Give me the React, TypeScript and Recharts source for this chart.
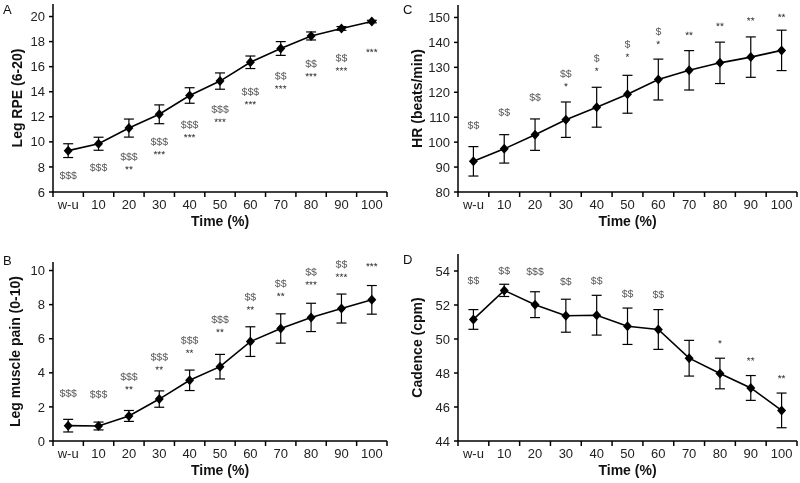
import React from 'react';
import { LineChart, Line, XAxis, YAxis, ErrorBar } from 'recharts';

const timeLabels = ['w-u', '10', '20', '30', '40', '50', '60', '70', '80', '90', '100'];

// A: leg RPE
const rpeMean = [9.3, 9.85, 11.1, 12.2, 13.7, 14.85, 16.35, 17.45, 18.45, 19.05, 19.6];
const rpeSd = [0.55, 0.52, 0.72, 0.75, 0.62, 0.65, 0.5, 0.55, 0.32, 0.15, 0.1];
const rpeSig = ['$$$', '$$$', '$$$\n**', '$$$\n***', '$$$\n***', '$$$\n***', '$$$\n***', '$$\n***', '$$\n***', '$$\n***', '***'];
const rpeSigAt = [7.36, 8.0, 8.85, 10.05, 11.4, 12.65, 14.04, 15.3, 16.27, 16.73, 17.4];
const rpeTicks = [6, 8, 10, 12, 14, 16, 18, 20];

// B: leg muscle pain
const painMean = [0.9, 0.88, 1.47, 2.46, 3.56, 4.36, 5.83, 6.6, 7.25, 7.77, 8.28];
const painSd = [0.37, 0.23, 0.32, 0.48, 0.6, 0.72, 0.87, 0.86, 0.83, 0.85, 0.84];
const painSig = ['$$$', '$$$', '$$$\n**', '$$$\n**', '$$$\n**', '$$$\n**', '$$\n**', '$$\n**', '$$\n***', '$$\n***', '***'];
const painSigAt = [2.83, 2.77, 3.8, 4.95, 5.94, 7.16, 8.47, 9.26, 9.94, 10.39, 10.43];
const painTicks = [0, 2, 4, 6, 8, 10];

// C: heart rate
const hrMean = [92.3, 97.3, 103, 109, 114, 119.2, 125.1, 128.8, 131.8, 134.1, 136.8];
const hrSd = [5.9, 5.7, 6.3, 7.1, 8.0, 7.6, 8.2, 7.9, 8.3, 8.1, 8.1];
const hrSig = ['$$', '$$', '$$', '$$\n*', '$\n*', '$\n*', '$\n*', '**', '**', '**', '**'];
const hrSigAt = [107.0, 112.2, 118.2, 127.6, 133.8, 139.5, 144.6, 144.2, 147.8, 150, 151.4];
const hrTicks = [80, 90, 100, 110, 120, 130, 140, 150];

// D: cadence
const cadMean = [51.15, 52.86, 52.02, 51.37, 51.4, 50.75, 50.56, 48.87, 47.97, 47.12, 45.8];
const cadSd = [0.58, 0.36, 0.76, 0.97, 1.17, 1.07, 1.17, 1.05, 0.9, 0.73, 1.02];
const cadSig = ['$$', '$$', '$$$', '$$', '$$', '$$', '$$', '', '*', '**', '**'];
const cadSigAt = [53.47, 54.04, 54.0, 53.41, 53.45, 52.69, 52.65, null, 49.93, 48.91, 47.87];
const cadTicks = [44, 46, 48, 50, 52, 54];

const FONT = '"Liberation Sans", Arial, Helvetica, sans-serif';

function buildRows(mean: number[], sd: number[], sigAt: (number | null)[]) {
  return timeLabels.map((time, i) => ({ time, mean: mean[i], sd: sd[i], sigAt: sigAt[i] }));
}

const Diamond = (props: any) => {
  const { cx, cy, index } = props;
  if (cx == null || cy == null) return null;
  return (
    <polygon
      key={`d-${index}`}
      points={`${cx},${cy - 5} ${cx + 4.5},${cy} ${cx},${cy + 5} ${cx - 4.5},${cy}`}
      fill="#000"
    />
  );
};

function makeTick(band: number) {
  return (props: any) => {
    const { x, y, payload } = props;
    const idx = timeLabels.indexOf(String(payload.value));
    return (
      <g>
        <line x1={x - band / 2} x2={x - band / 2} y1={y} y2={y + 5} stroke="#000" strokeWidth={1.5} />
        {idx === timeLabels.length - 1 && (
          <line x1={x + band / 2} x2={x + band / 2} y1={y} y2={y + 5} stroke="#000" strokeWidth={1.5} />
        )}
        <text x={x} y={y + 12} textAnchor="middle" dominantBaseline="central" fontSize={13} fill="#222" fontFamily={FONT}>
          {payload.value}
        </text>
      </g>
    );
  };
}

function makeSig(sig: string[]) {
  return (props: any) => {
    const vb = props.viewBox || {};
    const x = vb.x ?? props.x;
    const y = vb.y ?? props.y;
    const text = sig[props.index];
    if (!text || x == null || y == null || Number.isNaN(y)) return null;
    return (
      <g key={`s-${props.index}`} transform={`rotate(0.05 ${x} ${y})`}>
        {text.split('\n').map((ln, k) => (
          <text
            key={k}
            x={x}
            y={y + k * 10 + (ln.startsWith('*') ? 3 : 0)}
            textAnchor="middle"
            dominantBaseline="central"
            fontSize={ln.startsWith('*') ? 10 : 10.5}
            fill={ln.startsWith('*') ? '#333' : '#555'}
            fontFamily={FONT}
          >
            {ln}
          </text>
        ))}
      </g>
    );
  };
}

interface PanelProps {
  left: number;
  top: number;
  width: number;
  height: number;
  mTop: number;
  mRight: number;
  yWidth: number;
  xHeight: number;
  domain: [number, number];
  yTicks: number[];
  yTitle: string;
  yTitleX: number;
  letter: string;
  letterTop: number;
  rows: any[];
  sig: string[];
}

function Panel(p: PanelProps) {
  const plotW = p.width - p.yWidth - p.mRight;
  const band = plotW / timeLabels.length;
  return (
    <div style={{ position: 'absolute', left: p.left, top: p.top, width: p.width, height: p.height, willChange: 'transform' }}>
      <div style={{ position: 'absolute', left: 3, top: p.letterTop, fontSize: 13, fontFamily: FONT, color: '#111', lineHeight: '13px' }}>
        {p.letter}
      </div>
      <LineChart
        width={p.width}
        height={p.height}
        data={p.rows}
        margin={{ top: p.mTop, right: p.mRight, bottom: 0, left: 0 }}
      >
        <XAxis
          dataKey="time"
          scale="point"
          padding={{ left: band / 2, right: band / 2 }}
          interval={0}
          height={p.xHeight}
          tickLine={false}
          tickSize={0}
          tickMargin={0}
          axisLine={{ stroke: '#000', strokeWidth: 1.5 }}
          tick={makeTick(band)}
          label={{
            content: (lp: any) => {
              const vb = lp.viewBox;
              return (
                <text x={vb.x + vb.width / 2} y={vb.y + 29} textAnchor="middle" dominantBaseline="central" fontSize={14} fontWeight="bold" fill="#111" fontFamily={FONT}>
                  Time (%)
                </text>
              );
            },
          }}
        />
        <YAxis
          type="number"
          domain={p.domain}
          ticks={p.yTicks}
          interval={0}
          width={p.yWidth}
          tickSize={4}
          tickMargin={4}
          axisLine={{ stroke: '#000', strokeWidth: 1.5 }}
          tickLine={{ stroke: '#000', strokeWidth: 1.5 }}
          tick={{ fontSize: 13, fill: '#222', fontFamily: FONT }}
          label={{
            content: (lp: any) => {
              const vb = lp.viewBox;
              const cx = vb.x + p.yTitleX;
              const cy = vb.y + vb.height / 2;
              return (
                <text x={cx} y={cy} transform={`rotate(-90 ${cx} ${cy})`} textAnchor="middle" dominantBaseline="central" fontSize={14} fontWeight="bold" fill="#111" fontFamily={FONT}>
                  {p.yTitle}
                </text>
              );
            },
          }}
        />
        <Line dataKey="mean" stroke="#000" strokeWidth={1.6} dot={<Diamond />} activeDot={false} isAnimationActive={false}>
          <ErrorBar dataKey="sd" width={5} stroke="#000" strokeWidth={1.2} direction="y" />
        </Line>
        <Line dataKey="sigAt" stroke="none" dot={false} activeDot={false} isAnimationActive={false} label={makeSig(p.sig)} />
      </LineChart>
    </div>
  );
}

export default function App() {
  return (
    <div style={{ position: 'absolute', left: 0, top: 0, width: 800, height: 483, background: '#fff' }}>
      <Panel left={0} top={0} width={400} height={240} mTop={4} mRight={13} yWidth={53} xHeight={48}
        domain={[6, 21]} yTicks={rpeTicks} yTitle="Leg RPE (6-20)" yTitleX={17} letter="A" letterTop={3}
        rows={buildRows(rpeMean, rpeSd, rpeSigAt)} sig={rpeSig} />
      <Panel left={400} top={0} width={400} height={240} mTop={5} mRight={3} yWidth={58} xHeight={48}
        domain={[80, 155]} yTicks={hrTicks} yTitle="HR (beats/min)" yTitleX={17} letter="C" letterTop={3}
        rows={buildRows(hrMean, hrSd, hrSigAt)} sig={hrSig} />
      <Panel left={0} top={240} width={400} height={243} mTop={22} mRight={13} yWidth={53} xHeight={42}
        domain={[0, 10.5]} yTicks={painTicks} yTitle="Leg muscle pain (0-10)" yTitleX={15} letter="B" letterTop={14}
        rows={buildRows(painMean, painSd, painSigAt)} sig={painSig} />
      <Panel left={400} top={240} width={400} height={243} mTop={14} mRight={3} yWidth={58} xHeight={42}
        domain={[44, 55]} yTicks={cadTicks} yTitle="Cadence (cpm)" yTitleX={17} letter="D" letterTop={13}
        rows={buildRows(cadMean, cadSd, cadSigAt)} sig={cadSig} />
    </div>
  );
}
